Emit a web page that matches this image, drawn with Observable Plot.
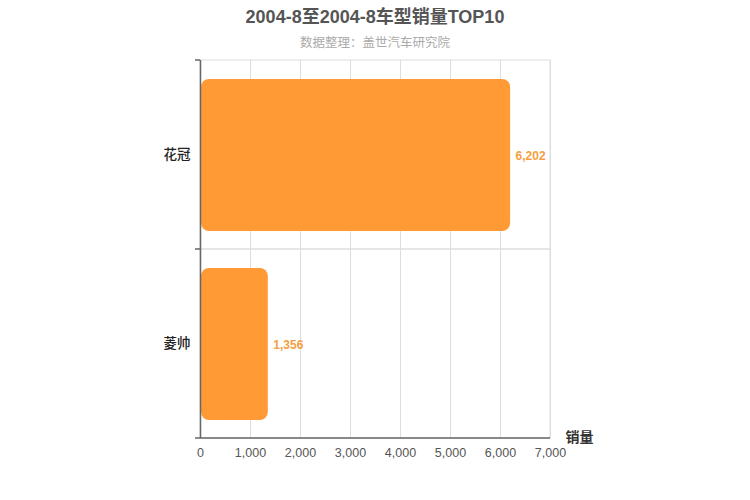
<!DOCTYPE html>
<html><head><meta charset="utf-8">
<script src="https://cdn.jsdelivr.net/npm/d3@7"></script>
<script src="https://cdn.jsdelivr.net/npm/@observablehq/plot@0.6"></script>
<style>
body{margin:0;background:#fff;font-family:"Liberation Sans",Arial,"Noto Sans CJK SC",sans-serif;}
#wrap{width:750px;height:500px;position:relative;}
#title{height:34px;line-height:34px;text-align:center;font-size:18px;font-weight:bold;color:#555;}
#sub{height:18px;line-height:18px;text-align:center;font-size:12.5px;color:#aaa;}
</style></head>
<body><div id="wrap"><div id="title">2004-8至2004-8车型销量TOP10</div><div id="sub">数据整理：盖世汽车研究院</div><div id="chart"></div></div>
<script>
const categories = ["花冠", "菱帅"];
const sales = [6202, 1356];
const xTicks = [0, 1000, 2000, 3000, 4000, 5000, 6000, 7000];
const data = categories.map((c, i) => ({model: c, value: sales[i]}));
const fmt = d3.format(",");
const H = 448, MT = 8, MB = 62;
const plot = Plot.plot({
  width: 750, height: H,
  marginLeft: 200, marginRight: 200, marginTop: MT, marginBottom: MB,
  style: {fontFamily: '"Liberation Sans", Arial, "Noto Sans CJK SC", sans-serif', fontSize: "12px", background: "#fff"},
  x: {domain: [0, 7000], ticks: xTicks, tickFormat: fmt, label: null, tickSize: 0, tickPadding: 10},
  y: {domain: categories, padding: 0, label: null, tickSize: 0, tickPadding: 10},
  marks: [
    Plot.ruleX(xTicks, {stroke: "#ddd", strokeWidth: 1}),
    Plot.barX(categories, {y: d => d, x1: 0, x2: 7000, fill: "none", stroke: "#ddd"}),
    Plot.barX(data, {y: "model", x: "value", fill: "#ff9a35", rx: 8, insetTop: 19, insetBottom: 18, insetLeft: 1}),
    Plot.text(data, {y: "model", x: "value", text: d => fmt(d.value), dx: 5, dy: 1, textAnchor: "start", fill: "#f5a040", fontWeight: "bold", fontSize: 12}),
    Plot.ruleX([0], {stroke: "#666", strokeWidth: 1.5}),
    Plot.text(["销量"], {frameAnchor: "bottom-right", text: d => d, dx: 15, dy: 3, textAnchor: "start", fill: "#333", fontWeight: "bold", fontSize: 14}),
    Plot.axisX({ticks: xTicks, tickFormat: fmt, tickSize: 0, tickPadding: 10, fill: "#555", label: null, fontSize: 12.5}),
    Plot.axisY({tickSize: 0, tickPadding: 10, fill: "#222", label: null, fontSize: 13.5, fontWeight: 500})
  ]
});
document.getElementById("chart").appendChild(plot);
// axis line at bottom and band-boundary ticks on the left axis
const ys = plot.scale("y");
const xs = plot.scale("x");
const r0 = Math.min(...ys.range), r1 = Math.max(...ys.range);
const step = (r1 - r0) / ys.domain.length;
const svg = d3.select(plot.tagName === "svg" ? plot : plot.querySelector("svg"));
const g = svg.append("g").attr("stroke", "#666").attr("stroke-width", 1.5);
g.append("line").attr("x1", xs.range[0]).attr("x2", xs.range[1]).attr("y1", r1).attr("y2", r1);
for (let i = 0; i <= ys.domain.length; i++) {
  const y = r0 + i * step;
  g.append("line").attr("x1", xs.range[0] - 5).attr("x2", xs.range[0]).attr("y1", y).attr("y2", y);
}
</script></body></html>
